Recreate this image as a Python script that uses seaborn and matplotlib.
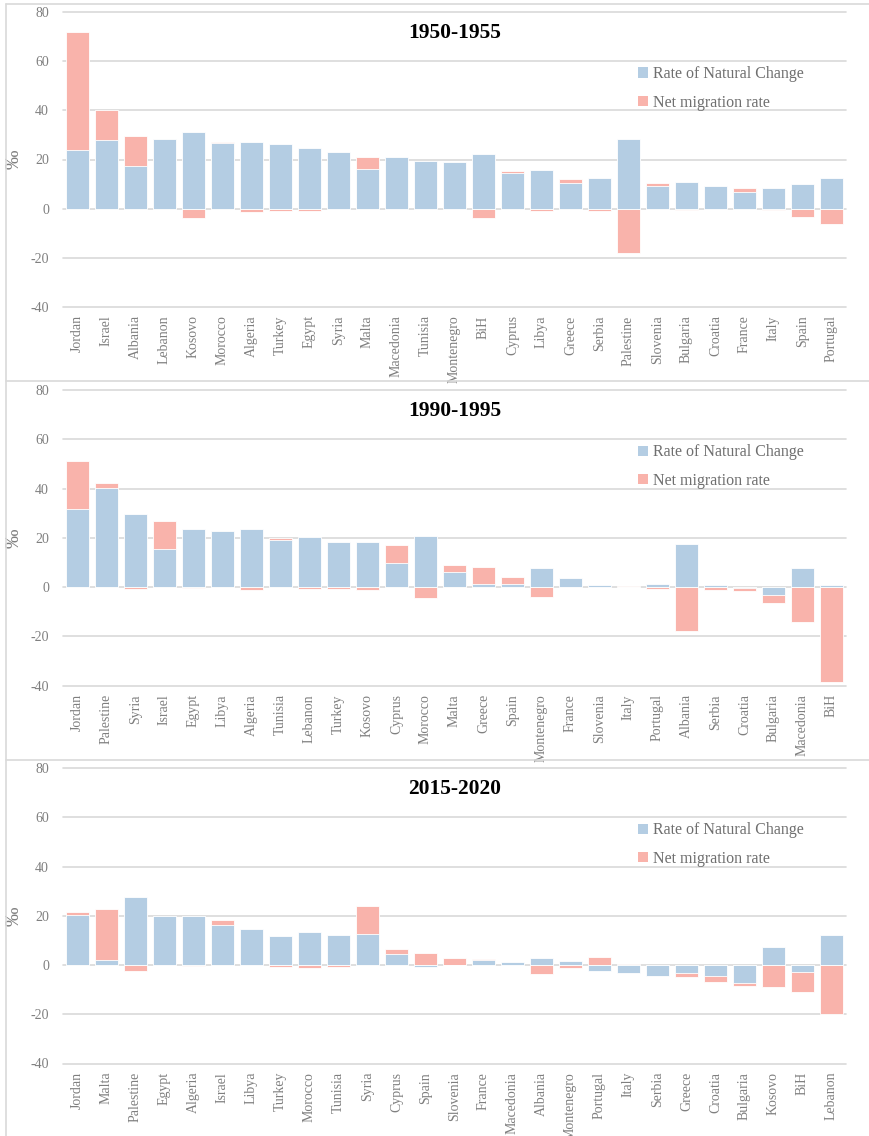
import matplotlib
matplotlib.use("Agg")
import matplotlib.pyplot as plt
import seaborn as sns
import numpy as np
import pandas as pd
from matplotlib.patches import Patch
from matplotlib.lines import Line2D

# ---------------- data ----------------
countries_1950 = ["Jordan", "Israel", "Albania", "Lebanon", "Kosovo", "Morocco", "Algeria",
                  "Turkey", "Egypt", "Syria", "Malta", "Macedonia", "Tunisia", "Montenegro",
                  "BiH", "Cyprus", "Libya", "Greece", "Serbia", "Palestine", "Slovenia",
                  "Bulgaria", "Croatia", "France", "Italy", "Spain", "Portugal"]
natural_1950 = [23.7, 27.9, 17.5, 28.4, 31.0, 26.9, 27.2, 26.4, 24.5, 23.1, 16.1, 21.1, 19.2, 18.8,
                22.3, 14.6, 15.7, 10.4, 12.3, 28.2, 9.2, 10.7, 9.3, 6.9, 8.5, 10.2, 12.3]
migration_1950 = [48.0, 12.3, 12.1, 0.1, -3.8, 0.2, -1.2, -0.8, -1.0, 0.0, 5.0, 0.0, 0.0, 0.0,
                  -3.9, 0.8, -1.0, 1.8, -1.1, -17.9, 1.1, -0.7, 0.0, 1.4, -0.6, -3.2, -6.4]

countries_1990 = ["Jordan", "Palestine", "Syria", "Israel", "Egypt", "Libya", "Algeria", "Tunisia",
                  "Lebanon", "Turkey", "Kosovo", "Cyprus", "Morocco", "Malta", "Greece", "Spain",
                  "Montenegro", "France", "Slovenia", "Italy", "Portugal", "Albania", "Serbia",
                  "Croatia", "Bulgaria", "Macedonia", "BiH"]
natural_1990 = [31.9, 40.3, 29.6, 15.6, 23.7, 22.7, 23.4, 19.2, 20.2, 18.4, 18.4, 9.7, 20.6, 6.2,
                1.1, 1.4, 7.7, 3.7, 0.8, 0.0, 1.2, 17.6, 0.8, -0.2, -3.1, 7.8, 0.7]
migration_1990 = [19.4, 1.8, -0.9, 11.3, -0.5, 0.2, -1.0, 0.7, -0.8, -0.6, -1.0, 7.5, -4.6, 2.6,
                  7.0, 2.9, -3.9, 0.0, 0.0, 0.4, -0.8, -17.7, -1.1, -1.5, -3.3, -14.2, -38.6]

countries_2015 = ["Jordan", "Malta", "Palestine", "Egypt", "Algeria", "Israel", "Libya", "Turkey",
                  "Morocco", "Tunisia", "Syria", "Cyprus", "Spain", "Slovenia", "France",
                  "Macedonia", "Albania", "Montenegro", "Portugal", "Italy", "Serbia", "Greece",
                  "Croatia", "Bulgaria", "Kosovo", "BiH", "Lebanon"]
natural_2015 = [20.2, 2.2, 27.7, 19.8, 20.1, 16.4, 14.5, 11.8, 13.6, 12.2, 12.6, 4.3, -0.8, 0.0,
                1.9, 1.2, 2.7, 1.6, -2.4, -3.1, -4.6, -3.1, -4.3, -7.2, 7.3, -3.0, 12.2]
migration_2015 = [1.5, 20.7, -2.4, 0.0, -0.3, 1.9, 0.0, -0.9, -1.1, -0.7, 11.5, 2.2, 5.0, 3.0,
                  0.5, 0.0, -3.5, -1.1, 3.3, 0.4, 0.0, -1.6, -2.7, -1.2, -9.1, -8.0, -20.1]

periods = ["1950-1955", "1990-1995", "2015-2020"]
yticks = [-40, -20, 0, 20, 40, 60, 80]
series_labels = ["Rate of Natural Change", "Net migration rate"]

# ---------------- style ----------------
sns.set_style("white")
serif = ["Liberation Serif", "DejaVu Serif"]
plt.rcParams["font.family"] = serif
BLUE = "#b4cde3"
RED = "#f9b3ab"
GRID = "#d9d9d9"
TXT = "#7f7f7f"

W, H = 870, 1136
fig = plt.figure(figsize=(W / 100, H / 100), dpi=100)

panels = [
    (countries_1950, natural_1950, migration_1950, 12, 307),
    (countries_1990, natural_1990, migration_1990, 390, 685.7),
    (countries_2015, natural_2015, migration_2015, 768, 1063.5),
]

left_px, right_px = 63, 846
for i, (cats, nat, mig, top_px, bot_px) in enumerate(panels):
    ax = fig.add_axes([left_px / W, 1 - bot_px / H, (right_px - left_px) / W, (bot_px - top_px) / H])
    nat = np.array(nat)
    mig = np.array(mig)
    same = np.sign(nat) == np.sign(mig)
    red_h = np.where(same, nat + mig, mig)
    df = pd.DataFrame({"country": cats, "natural": nat, "red": red_h})

    for y in yticks:
        ax.axhline(y, color=GRID, lw=1.2, zorder=0, clip_on=False)

    sns.barplot(data=df, x="country", y="red", color=RED, saturation=1, width=0.76,
                linewidth=0.6, edgecolor="white", ax=ax, zorder=2)
    sns.barplot(data=df, x="country", y="natural", color=BLUE, saturation=1, width=0.76,
                linewidth=0.6, edgecolor="white", ax=ax, zorder=3)

    ax.set_ylim(-40, 80)
    ax.set_xlim(-0.5, len(cats) - 0.5)
    ax.set_yticks(yticks)
    ax.set_yticklabels([str(v) for v in yticks])
    for s in ax.spines.values():
        s.set_visible(False)
    ax.tick_params(axis="both", length=0, colors=TXT, labelsize=10)
    ax.tick_params(axis="y", pad=10)
    ax.tick_params(axis="x", pad=6)
    plt.setp(ax.get_xticklabels(), rotation=90, va="top", ha="center")
    ax.set_xlabel("")
    ax.set_ylabel("‰", color=TXT, fontsize=14)
    ax.yaxis.set_label_coords(-0.052, 0.5)
    ax.grid(False)

    ax.text(0.5, (71.5 + 40) / 120, periods[i], transform=ax.transAxes, ha="center", va="center",
            fontsize=15.5, fontweight="bold", color="black")

    handles = [Patch(facecolor=BLUE, edgecolor="none"), Patch(facecolor=RED, edgecolor="none")]
    leg = ax.legend(handles, series_labels, loc="upper left", bbox_to_anchor=(0.716, 0.865),
                    frameon=False, handlelength=0.6, handleheight=0.6, handletextpad=0.35,
                    labelspacing=0.78, fontsize=11.5)
    for t in leg.get_texts():
        t.set_color("#6f6f6f")

# panel borders
for ypx in [4, 381, 760]:
    fig.add_artist(Line2D([6 / W, 1], [1 - ypx / H] * 2, color=GRID, lw=1.2))
fig.add_artist(Line2D([6 / W, 6 / W], [0, 1 - 4 / H], color=GRID, lw=1.2))

fig.savefig("out.png", dpi=100)
